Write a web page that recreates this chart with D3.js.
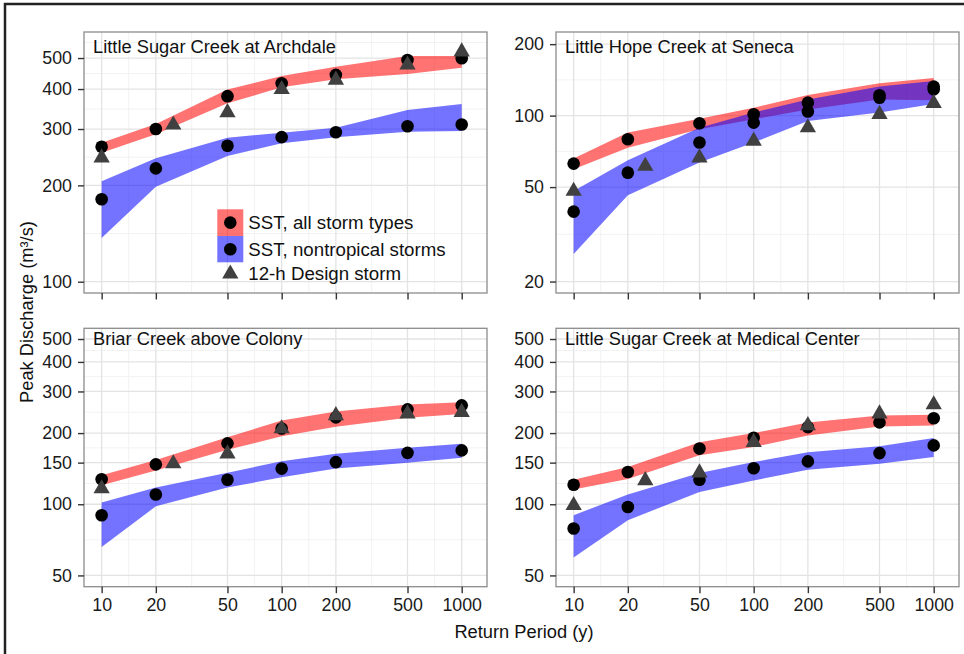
<!DOCTYPE html>
<html>
<head>
<meta charset="utf-8">
<script src="https://cdn.jsdelivr.net/npm/d3@7"></script>
<style>
  body { margin: 0; background: #fff; }
  svg { display: block; font-family: "Liberation Sans", Arial, sans-serif; }
</style>
</head>
<body>
<div id="chart"></div>
<script>
// Return periods (years) on the x axis
const returnPeriods = [10, 20, 50, 100, 200, 500, 1000];
const designPeriods = [10, 25, 50, 100, 200, 500, 1000];

const panelTitles = [
    "Little Sugar Creek at Archdale",
    "Little Hope Creek at Seneca",
    "Briar Creek above Colony",
    "Little Sugar Creek at Medical Center"
];
const legendLabels = ["SST, all storm types", "SST, nontropical storms", "12-h Design storm"];

// Little Sugar Creek at Archdale
const archdaleAllLow  = [253, 289, 361, 405, 429, 446, 466];
const archdaleAllHigh = [272, 311, 399, 439, 470, 507, 507];
const archdaleAllPts  = [264, 300, 380, 417, 443, 493, 499];
const archdaleNtLow   = [137, 198, 247, 271, 283, 294, 296];
const archdaleNtHigh  = [206, 243, 282, 292, 303, 344, 359];
const archdaleNtPts   = [181, 226, 266, 283, 293, 306, 310];
const archdaleDesign  = [244, 309, 338, 399, 427, 476, 523];

// Little Hope Creek at Seneca
const senecaAllLow  = [59.4, 73.3, 87.6, 96.5, 106, 117, 116];
const senecaAllHigh = [65.9, 84.8, 97.1, 108, 122, 136.8, 144];
const senecaAllPts  = [62.8, 79.5, 92.8, 101.3, 113.4, 121.8, 132.5];
const senecaNtLow   = [26.1, 46.2, 63.4, 77, 95, 103, 112];
const senecaNtHigh  = [48.1, 64.8, 89, 103, 117, 132.5, 140];
const senecaNtPts   = [39.4, 57.5, 77, 93.4, 104, 119, 129];
const senecaDesign  = [48.1, 61.3, 66.5, 78.2, 89, 101.3, 112.7];

// Briar Creek above Colony
const briarAllLow  = [120.3, 139, 170, 194, 213, 232, 241];
const briarAllHigh = [132.6, 154, 192, 226, 247, 264, 270];
const briarAllPts  = [127.5, 147.5, 181, 209, 233, 252, 262];
const briarNtLow   = [66, 98, 117.6, 130, 141.5, 150, 157.4];
const briarNtHigh  = [101.7, 117.6, 136, 152, 163.6, 173.5, 180.3];
const briarNtPts   = [89.9, 110, 127, 141.5, 150.8, 165, 169];
const briarDesign  = [116.5, 148.5, 163.6, 209, 237.5, 241.5, 245];

// Little Sugar Creek at Medical Center
const medicalAllLow  = [115.4, 128, 161, 174.5, 195.5, 213.4, 215.4];
const medicalAllHigh = [127, 143.6, 183, 200, 222, 237.5, 239];
const medicalAllPts  = [121, 137, 172, 191, 212, 222, 231];
const medicalNtLow   = [59.6, 85.6, 112.7, 126, 140, 148.5, 158.4];
const medicalNtHigh  = [89.9, 110, 135.5, 150.8, 166, 176, 190.5];
const medicalNtPts   = [79, 97.4, 127, 142, 151.8, 164.6, 177.4];
const medicalDesign  = [99, 126, 136, 183, 215.4, 241.5, 264];

// y tick values and limits for each panel
const archdaleTicks = [100, 200, 300, 400, 500];
const senecaTicks = [20, 50, 100, 200];
const lowerTicks = [50, 100, 150, 200, 300, 400, 500];
const archdaleDomain = [92.2, 603];
const senecaDomain = [17.9, 225];
const lowerDomain = [44.8, 555];
const xDomain = [7.98, 1382];

const width = 964;
const height = 654;
const panelW = 403;

const svg = d3.select("#chart").append("svg")
    .attr("width", width)
    .attr("height", height);

// outer frame (runs off the right and bottom edges)
svg.append("path")
    .attr("d", `M${width + 5},4 H5 V${height + 5}`)
    .attr("fill", "none")
    .attr("stroke", "#222")
    .attr("stroke-width", 2.5);

const panels = [
    { title: panelTitles[0], left: 84, top: 32, h: 261, ticks: archdaleTicks, domain: archdaleDomain, labels: false, titleDy: 21.3,
      allLow: archdaleAllLow, allHigh: archdaleAllHigh, allPts: archdaleAllPts,
      ntLow: archdaleNtLow, ntHigh: archdaleNtHigh, ntPts: archdaleNtPts, design: archdaleDesign, legend: true },
    { title: panelTitles[1], left: 556, top: 32, h: 261, ticks: senecaTicks, domain: senecaDomain, labels: false, titleDy: 21.3,
      allLow: senecaAllLow, allHigh: senecaAllHigh, allPts: senecaAllPts,
      ntLow: senecaNtLow, ntHigh: senecaNtHigh, ntPts: senecaNtPts, design: senecaDesign },
    { title: panelTitles[2], left: 84, top: 328.3, h: 258.4, ticks: lowerTicks, domain: lowerDomain, labels: true, titleDy: 16.7,
      allLow: briarAllLow, allHigh: briarAllHigh, allPts: briarAllPts,
      ntLow: briarNtLow, ntHigh: briarNtHigh, ntPts: briarNtPts, design: briarDesign },
    { title: panelTitles[3], left: 556, top: 328.3, h: 258.4, ticks: lowerTicks, domain: lowerDomain, labels: true, titleDy: 16.7,
      allLow: medicalAllLow, allHigh: medicalAllHigh, allPts: medicalAllPts,
      ntLow: medicalNtLow, ntHigh: medicalNtHigh, ntPts: medicalNtPts, design: medicalDesign }
];

const redFill = "#ff0000";
const blueFill = "#0000ff";
const bandOpacity = 0.55;

// minor breaks halfway between majors in log space
function minorBreaks(ticks, domain) {
    const lg = ticks.map(Math.log10);
    const ext = [2 * lg[0] - lg[1], ...lg, 2 * lg[lg.length - 1] - lg[lg.length - 2]];
    const out = [];
    for (let i = 0; i < ext.length - 1; i++) out.push(Math.pow(10, (ext[i] + ext[i + 1]) / 2));
    return out.filter(v => v > domain[0] && v < domain[1]);
}

panels.forEach(p => {
    const g = svg.append("g").attr("transform", `translate(${p.left},${p.top})`);

    const x = d3.scaleLog().domain(xDomain).range([0, panelW]);
    const y = d3.scaleLog().domain(p.domain).range([p.h, 0]);

    // grid
    const grid = g.append("g");
    grid.selectAll(".vminor").data(minorBreaks(returnPeriods, xDomain)).join("line")
        .attr("x1", d => x(d)).attr("x2", d => x(d)).attr("y1", 0).attr("y2", p.h)
        .attr("stroke", "#f2f2f2").attr("stroke-width", 1);
    grid.selectAll(".hminor").data(minorBreaks(p.ticks, p.domain)).join("line")
        .attr("y1", d => y(d)).attr("y2", d => y(d)).attr("x1", 0).attr("x2", panelW)
        .attr("stroke", "#f2f2f2").attr("stroke-width", 1);
    grid.selectAll(".vmajor").data(returnPeriods).join("line")
        .attr("x1", d => x(d)).attr("x2", d => x(d)).attr("y1", 0).attr("y2", p.h)
        .attr("stroke", "#e3e3e3").attr("stroke-width", 1.3);
    grid.selectAll(".hmajor").data(p.ticks).join("line")
        .attr("y1", d => y(d)).attr("y2", d => y(d)).attr("x1", 0).attr("x2", panelW)
        .attr("stroke", "#e3e3e3").attr("stroke-width", 1.3);

    // ribbons
    const area = (lo, hi) => d3.area()
        .x((d, i) => x(returnPeriods[i]))
        .y0((d, i) => y(lo[i]))
        .y1((d, i) => y(hi[i]))(returnPeriods);

    g.append("path").attr("d", area(p.allLow, p.allHigh))
        .attr("fill", redFill).attr("fill-opacity", bandOpacity);
    g.append("path").attr("d", area(p.ntLow, p.ntHigh))
        .attr("fill", blueFill).attr("fill-opacity", bandOpacity);

    // SST points
    g.selectAll(".allpt").data(p.allPts).join("circle")
        .attr("cx", (d, i) => x(returnPeriods[i])).attr("cy", d => y(d))
        .attr("r", 6.3).attr("fill", "#000");
    g.selectAll(".ntpt").data(p.ntPts).join("circle")
        .attr("cx", (d, i) => x(returnPeriods[i])).attr("cy", d => y(d))
        .attr("r", 6.3).attr("fill", "#000");

    // design storm triangles
    const tri = d3.symbol(d3.symbolTriangle, 115);
    g.selectAll(".design").data(p.design).join("path")
        .attr("d", tri)
        .attr("transform", (d, i) => `translate(${x(designPeriods[i])},${y(d)})`)
        .attr("fill", "#404040");

    // border
    g.append("rect").attr("width", panelW).attr("height", p.h)
        .attr("fill", "none").attr("stroke", "#8c8c8c").attr("stroke-width", 1.3);

    // panel title
    g.append("text").attr("x", 9).attr("y", p.titleDy)
        .attr("font-size", 18.3).attr("fill", "#111").text(p.title);

    // axes
    const yAxis = g.append("g").call(d3.axisLeft(y).tickValues(p.ticks)
        .tickFormat(d3.format("d")).tickSize(6).tickPadding(6));
    const xAxis = g.append("g").attr("transform", `translate(0,${p.h})`)
        .call(d3.axisBottom(x).tickValues(returnPeriods)
            .tickFormat(p.labels ? d3.format("d") : "").tickSize(6.5).tickPadding(5));
    [yAxis, xAxis].forEach(a => {
        a.select(".domain").remove();
        a.selectAll(".tick line").attr("stroke", "#333").attr("stroke-width", 1.4);
        a.selectAll(".tick text").attr("font-size", 17.8).attr("fill", "#1a1a1a")
            .attr("font-family", "Liberation Sans, Arial, sans-serif");
    });

    if (p.legend) {
        const lg = g.append("g").attr("transform", "translate(133.3,177.3)");
        lg.append("rect").attr("width", 26).attr("height", 26.7)
            .attr("fill", redFill).attr("fill-opacity", bandOpacity);
        lg.append("rect").attr("y", 26.7).attr("width", 26).attr("height", 26.3)
            .attr("fill", blueFill).attr("fill-opacity", bandOpacity);
        lg.append("circle").attr("cx", 13).attr("cy", 13.3).attr("r", 6.3).attr("fill", "#000");
        lg.append("circle").attr("cx", 13).attr("cy", 40).attr("r", 6.3).attr("fill", "#000");
        lg.append("path").attr("d", tri).attr("transform", "translate(13,64.5)").attr("fill", "#404040");
        lg.selectAll("text").data(legendLabels).join("text")
            .attr("x", 31).attr("y", (d, i) => [19.5, 46.5, 70.8][i])
            .attr("font-size", 18.7).attr("fill", "#111").text(d => d);
    }
});

// axis titles
svg.append("text")
    .attr("x", 524).attr("y", 638.3)
    .attr("text-anchor", "middle").attr("font-size", 18.3).attr("fill", "#111")
    .text("Return Period (y)");

svg.append("text")
    .attr("transform", "translate(32.5,312) rotate(-90)")
    .attr("text-anchor", "middle").attr("font-size", 18.3).attr("fill", "#111")
    .text("Peak Discharge (m³/s)");
</script>
</body>
</html>
